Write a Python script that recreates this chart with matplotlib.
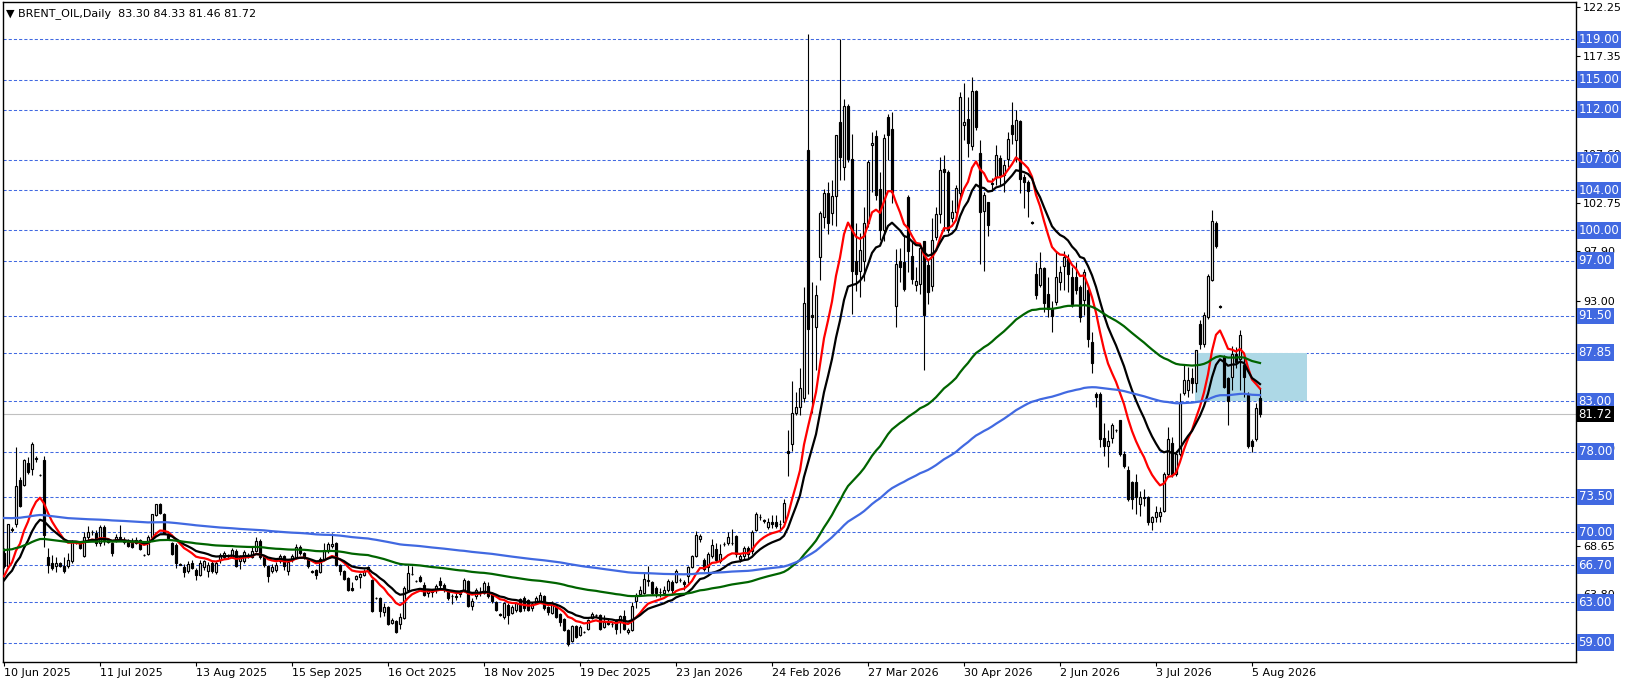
import matplotlib
matplotlib.use('Agg')
import matplotlib.pyplot as plt
import matplotlib.transforms as mtransforms
from matplotlib.patches import Rectangle
import numpy as np
import pandas as pd

# daily bars, oldest first
opens = [
    67.9, 66.6, 70.3, 70.8, 75.2, 74.7, 76.9, 76.3, 77.4, 75.7,
    77.2, 67.5, 66.9, 66.6, 66.9, 66.6, 66.6, 67.1, 68.9, 68.9,
    67.6, 69.5, 70.0, 69.9, 68.9, 70.5, 69.2, 68.9, 69.2, 69.5,
    69.2, 69.2, 69.1, 68.9, 69.2, 67.7, 67.8, 69.5, 71.7, 72.8,
    71.8, 69.7, 68.9, 68.7, 66.8, 66.5, 66.1, 66.9, 66.2, 65.7,
    66.5, 66.1, 66.9, 66.0, 67.2, 67.5, 67.6, 67.5, 68.1, 67.1,
    67.1, 67.6, 67.5, 68.1, 69.1, 67.5, 66.6, 66.1, 66.2, 67.1,
    67.6, 66.1, 67.2, 67.5, 68.5, 67.9, 67.2, 66.1, 66.2, 66.0,
    67.2, 68.1, 68.6, 68.9, 66.7, 66.1, 65.4, 64.4, 65.3, 65.5,
    65.7, 66.1, 65.2, 63.4, 63.4, 62.1, 62.5, 61.0, 61.2, 60.9,
    61.5, 64.2, 65.8, 65.1, 65.5, 64.7, 63.9, 64.1, 64.2, 65.1,
    64.7, 64.2, 63.6, 63.6, 63.8, 64.1, 65.1, 62.6, 63.6, 64.0,
    63.9, 64.6, 63.9, 63.0, 61.9, 61.6, 62.7, 62.0, 62.3, 63.3,
    63.4, 63.2, 62.4, 62.9, 63.1, 63.6, 62.5, 62.0, 62.6, 61.9,
    61.4, 60.3, 59.2, 60.7, 59.8, 60.1, 60.4, 61.5, 61.8, 61.8,
    60.6, 61.2, 60.9, 61.3, 61.1, 61.7, 60.1, 60.3, 63.1, 63.8,
    63.9, 65.1, 65.0, 64.4, 64.0, 63.9, 64.2, 65.0, 65.0, 65.2,
    65.0, 65.6, 66.5, 67.6, 69.3, 67.2, 66.5, 67.6, 68.3, 67.1,
    68.8, 68.9, 68.9, 69.6, 67.3, 67.6, 68.4, 68.1, 70.2, 71.5,
    71.2, 70.5, 71.0, 71.0, 70.8, 71.0, 78.1, 78.8, 81.8, 82.4,
    83.3, 108.0, 91.6, 90.4, 97.4, 101.3, 103.7, 101.7, 103.4, 110.8,
    106.3, 112.4, 107.1, 97.0, 96.0, 97.0, 100.7, 108.5, 109.4, 104.1,
    100.0, 111.3, 110.1, 92.5, 97.0, 96.9, 103.3, 97.5, 94.6, 94.7,
    98.9, 96.6, 94.5, 99.3, 101.6, 106.1, 105.8, 101.2, 101.8, 103.7,
    110.5, 111.1, 108.4, 113.9, 107.7, 101.9, 102.8, 104.7, 105.3, 107.2,
    105.5, 107.1, 110.5, 109.0, 110.9, 105.3, 104.8, 100.8, 95.7, 94.6,
    96.3, 93.7, 92.2, 92.9, 94.9, 96.5, 97.2, 95.4, 95.4, 94.4,
    93.1, 94.1, 88.9, 83.7, 83.7, 79.4, 78.6, 79.4, 80.1, 81.1,
    77.8, 76.2, 75.0, 75.0, 72.8, 73.5, 73.5, 71.0, 71.5, 71.6,
    72.1, 75.8, 78.9, 75.8, 77.8, 83.8, 84.1, 85.3, 84.8, 90.7,
    88.7, 91.4, 95.1, 100.7, 92.5, 87.4, 85.3, 85.4, 87.7, 87.2,
    86.6, 83.6, 79.1, 79.3, 83.30,
]
highs = [
    68.4, 70.8, 70.5, 78.5, 75.5, 77.3, 77.5, 79.0, 77.6, 75.8,
    77.6, 68.4, 67.7, 67.5, 67.0, 67.5, 67.9, 69.2, 69.1, 69.0,
    70.0, 70.6, 70.2, 70.2, 70.7, 70.7, 69.4, 69.0, 69.8, 70.7,
    69.5, 69.3, 69.4, 69.5, 69.3, 67.8, 69.7, 71.8, 72.8, 72.9,
    71.9, 69.8, 69.0, 68.9, 66.9, 66.8, 67.1, 67.2, 66.4, 67.2,
    67.2, 67.0, 67.1, 67.1, 67.9, 68.1, 67.8, 68.4, 68.3, 67.7,
    68.2, 67.9, 68.6, 69.5, 69.3, 67.6, 66.7, 66.8, 67.0, 67.8,
    67.7, 67.2, 67.8, 68.8, 68.7, 68.0, 67.3, 66.2, 66.3, 67.5,
    68.9, 69.0, 69.9, 69.0, 66.8, 66.2, 65.5, 65.0, 65.7, 65.9,
    66.3, 66.6, 65.3, 63.5, 63.5, 62.9, 62.6, 61.5, 61.3, 62.0,
    64.6, 66.7, 66.6, 65.2, 65.7, 65.0, 64.3, 64.3, 64.8, 65.5,
    64.9, 64.3, 63.8, 63.9, 64.2, 65.4, 65.2, 63.4, 64.4, 64.5,
    65.1, 65.0, 64.0, 63.1, 62.0, 63.0, 62.9, 62.7, 63.0, 63.4,
    63.6, 63.3, 63.0, 63.6, 64.0, 63.7, 62.6, 63.1, 62.8, 62.0,
    61.5, 60.4, 60.8, 60.8, 60.8, 60.2, 61.4, 62.1, 61.9, 61.9,
    61.8, 61.4, 61.1, 61.4, 61.8, 62.3, 60.5, 63.0, 63.9, 64.6,
    65.9, 66.6, 65.1, 64.6, 64.4, 64.6, 65.3, 65.2, 66.3, 65.4,
    65.2, 66.6, 67.7, 70.1, 69.8, 67.4, 68.0, 69.3, 68.9, 68.8,
    69.0, 70.0, 70.3, 69.7, 67.8, 68.6, 68.6, 70.2, 72.0, 71.8,
    71.3, 71.4, 71.7, 71.7, 71.2, 73.3, 80.1, 85.0, 83.9, 86.3,
    94.4, 119.5, 94.9, 94.6, 101.9, 104.1, 104.8, 105.0, 109.5, 119.0,
    113.1, 112.6, 109.6, 100.7, 99.7, 102.3, 107.0, 109.8, 110.0, 105.8,
    109.6, 111.6, 111.8, 98.1, 98.2, 99.4, 103.5, 98.9, 96.4, 98.5,
    98.9, 97.2, 101.2, 102.3, 107.3, 107.5, 106.0, 103.0, 104.5, 113.8,
    114.7, 113.3, 115.3, 114.0, 109.0, 103.8, 102.8, 105.2, 108.5, 107.5,
    107.0, 109.8, 112.8, 112.0, 111.0, 105.6, 105.0, 100.9, 96.9, 97.8,
    96.4, 95.4, 93.0, 97.9, 96.5, 97.9, 97.7, 96.4, 96.9, 94.6,
    96.2, 94.4, 89.9, 83.9, 83.9, 80.8, 80.1, 80.8, 80.2, 81.1,
    78.1, 76.6, 75.1, 75.8, 74.1, 74.3, 73.6, 71.6, 72.6, 72.5,
    76.0, 80.4, 79.5, 78.1, 83.8, 86.6, 86.4, 86.3, 88.1, 91.1,
    91.9, 95.7, 102.0, 100.9, 92.6, 87.6, 85.4, 88.5, 88.4, 90.1,
    87.4, 83.9, 79.3, 82.8, 84.33,
]
lows = [
    66.4, 66.4, 70.0, 70.5, 72.5, 74.6, 75.8, 75.7, 77.0, 75.6,
    68.5, 65.9, 66.2, 66.0, 66.5, 65.9, 66.4, 66.9, 68.8, 68.3,
    67.5, 69.1, 69.7, 68.6, 68.6, 68.7, 68.9, 67.6, 69.0, 69.2,
    68.8, 68.5, 68.4, 68.8, 68.2, 67.6, 67.7, 69.2, 71.6, 71.8,
    69.9, 69.3, 67.7, 66.4, 66.7, 65.5, 65.9, 66.3, 65.2, 65.6,
    66.2, 65.5, 65.9, 65.8, 66.9, 67.3, 67.3, 67.4, 66.5, 66.3,
    66.9, 67.4, 67.4, 68.0, 67.3, 66.5, 65.0, 65.9, 66.0, 66.9,
    66.2, 65.7, 67.0, 67.3, 67.7, 67.3, 66.4, 65.9, 65.3, 65.9,
    67.1, 67.9, 68.4, 66.6, 65.7, 65.2, 64.1, 64.1, 65.2, 64.4,
    65.6, 66.0, 62.1, 63.3, 61.6, 61.7, 60.8, 60.9, 60.0, 60.4,
    61.4, 64.1, 65.7, 65.0, 65.0, 63.6, 63.5, 63.5, 63.9, 64.4,
    64.0, 63.2, 62.8, 63.2, 63.5, 64.0, 62.5, 62.3, 63.3, 63.6,
    63.8, 63.4, 62.9, 62.2, 61.7, 61.4, 60.9, 61.9, 62.1, 62.1,
    62.2, 62.2, 62.2, 62.8, 62.9, 62.3, 61.8, 61.9, 61.5, 60.7,
    60.2, 58.7, 59.1, 59.5, 59.7, 60.0, 60.3, 61.4, 61.6, 60.3,
    60.5, 60.8, 60.6, 59.9, 60.0, 60.3, 59.9, 60.2, 62.4, 63.6,
    63.8, 64.6, 63.7, 63.5, 63.5, 63.7, 64.0, 63.9, 64.9, 65.0,
    64.2, 64.9, 66.4, 67.5, 69.0, 66.1, 65.8, 67.4, 67.0, 66.9,
    68.6, 68.7, 68.7, 67.5, 67.0, 67.3, 67.3, 67.8, 70.1, 71.2,
    70.9, 70.3, 70.4, 70.4, 70.3, 70.9, 75.6, 78.1, 81.6, 81.6,
    82.9, 83.7, 81.8, 86.1, 95.1, 100.2, 99.6, 100.5, 100.4, 105.0,
    105.0, 106.8, 91.7, 94.0, 93.4, 95.0, 100.3, 103.8, 103.0, 99.0,
    98.9, 107.0, 102.7, 90.4, 94.9, 94.0, 95.9, 94.7, 94.0, 93.7,
    86.1, 92.7, 94.0, 99.0, 100.7, 99.9, 99.7, 100.8, 101.5, 103.0,
    109.0, 107.3, 108.0, 110.0, 96.7, 96.0, 99.4, 103.9, 104.5, 104.5,
    103.8, 106.3, 108.6, 106.8, 103.7, 102.2, 101.3, 100.6, 93.2, 94.4,
    91.9, 91.4, 89.9, 92.6, 94.1, 94.1, 93.9, 92.4, 93.7, 90.9,
    91.6, 88.4, 85.8, 82.4, 78.5, 77.6, 76.5, 78.9, 80.0, 77.6,
    76.4, 73.1, 72.3, 71.8, 71.6, 72.6, 70.7, 70.2, 71.0, 71.0,
    72.0, 75.5, 75.5, 75.6, 77.6, 83.6, 83.4, 83.8, 83.9, 88.2,
    88.4, 91.2, 95.0, 98.2, 92.3, 84.3, 80.6, 84.1, 86.3, 84.1,
    83.4, 78.4, 78.0, 79.1, 81.46,
]
closes = [
    66.6, 70.8, 70.2, 74.6, 72.6, 77.2, 76.0, 78.8, 77.3, 75.7,
    69.7, 66.7, 66.4, 66.9, 66.6, 66.1, 67.2, 69.0, 68.9, 68.4,
    69.5, 70.0, 70.0, 68.9, 70.5, 69.2, 69.0, 67.9, 69.5, 69.4,
    69.0, 68.6, 68.5, 69.2, 68.3, 67.7, 69.5, 71.8, 72.8, 71.9,
    69.9, 69.4, 67.8, 66.9, 66.7, 66.0, 66.8, 66.4, 65.7, 66.9,
    67.1, 66.7, 66.1, 66.9, 67.7, 67.9, 67.6, 68.2, 66.6, 67.6,
    68.0, 67.7, 68.1, 69.1, 67.5, 66.7, 65.6, 66.5, 66.7, 67.6,
    66.6, 67.0, 67.6, 68.5, 67.9, 67.5, 66.6, 66.0, 65.7, 67.3,
    68.2, 68.8, 68.8, 66.7, 66.1, 65.3, 64.2, 64.2, 65.6, 65.8,
    66.1, 66.5, 62.2, 63.4, 62.2, 62.5, 60.9, 61.3, 60.1, 61.6,
    64.4, 65.9, 65.8, 65.1, 65.1, 63.7, 64.2, 64.0, 64.6, 64.7,
    64.2, 63.4, 63.6, 63.5, 63.9, 65.2, 62.6, 63.1, 64.2, 64.0,
    64.9, 63.6, 63.1, 62.3, 61.8, 62.9, 61.8, 62.5, 62.9, 62.2,
    62.4, 62.3, 62.8, 63.4, 63.7, 62.4, 62.1, 62.9, 61.6, 61.1,
    60.3, 58.9, 60.7, 59.6, 60.6, 60.1, 61.3, 61.9, 61.8, 60.4,
    61.1, 60.9, 60.9, 60.4, 61.7, 60.4, 60.3, 62.6, 63.7, 64.2,
    65.3, 65.2, 63.9, 63.9, 64.0, 64.2, 65.1, 64.2, 66.1, 65.2,
    64.8, 66.5, 67.6, 69.7, 69.6, 66.3, 67.8, 68.7, 67.2, 67.8,
    68.8, 69.5, 68.9, 67.8, 67.6, 68.4, 67.8, 70.0, 71.8, 71.5,
    71.1, 71.0, 70.8, 70.6, 70.8, 72.9, 77.9, 81.8, 82.4, 84.3,
    92.8, 90.2, 91.4, 93.6, 101.7, 103.7, 100.7, 103.4, 109.5, 107.3,
    112.4, 107.1, 96.0, 95.7, 98.0, 100.7, 106.8, 108.7, 103.5, 100.0,
    109.2, 109.5, 103.8, 96.7, 96.4, 94.2, 97.9, 95.2, 95.0, 98.2,
    91.6, 93.9, 99.0, 101.6, 106.0, 105.8, 100.0, 101.8, 104.2, 113.3,
    110.8, 108.7, 113.9, 110.3, 101.8, 103.5, 100.5, 104.6, 107.5, 105.5,
    106.5, 109.1, 109.6, 111.0, 105.1, 104.8, 103.9, 100.7, 93.6, 96.3,
    92.8, 92.2, 91.5, 95.4, 95.9, 97.4, 95.7, 92.7, 94.1, 91.4,
    95.9, 89.2, 86.8, 83.4, 79.3, 78.6, 79.1, 80.6, 80.1, 77.8,
    76.6, 73.3, 73.3, 73.5, 73.5, 73.4, 71.0, 71.5, 72.0, 72.0,
    75.8, 79.3, 75.8, 77.8, 82.9, 85.1, 85.1, 84.8, 88.1, 88.7,
    91.6, 95.5, 100.9, 98.4, 92.4, 84.4, 83.0, 87.7, 86.9, 89.6,
    85.4, 78.6, 78.6, 82.3, 81.72,
]

# moving averages: periods and their value on the first visible bar
ma_periods = [12, 20, 100, 200]
ma_first = [65.6, 65.2, 68.2, 71.4]
ma_colors = ['#FF0000', '#000000', '#006400', '#4169E1']

# horizontal levels drawn on the chart
levels = [119.00, 115.00, 112.00, 107.00, 104.00, 100.00, 97.00, 91.50,
          87.85, 83.00, 78.00, 73.50, 70.00, 66.70, 63.00, 59.00]
last_price = 81.72

# shaded zone (price range and bar range)
zone_low, zone_high = 83.00, 87.85
zone_from, zone_to = 298, 326

price_ticks = [122.25, 117.35, 112.50, 107.60, 102.75, 97.90, 93.00, 88.15,
               83.25, 78.40, 73.50, 68.65, 63.80]
date_labels = ['10 Jun 2025', '11 Jul 2025', '13 Aug 2025', '15 Sep 2025',
               '16 Oct 2025', '18 Nov 2025', '19 Dec 2025', '23 Jan 2026',
               '24 Feb 2026', '27 Mar 2026', '30 Apr 2026', '2 Jun 2026',
               '3 Jul 2026', '5 Aug 2026']
bars_per_label = 24

title = '\u25BC BRENT_OIL,Daily  83.30 84.33 81.46 81.72'

o = np.array(opens)
h = np.array(highs)
l = np.array(lows)
c = np.array(closes)
x = np.arange(len(c))

fig = plt.figure(figsize=(16.26, 6.86), dpi=100)
ax = fig.add_axes([0.00154, 0.03455, 0.96771, 0.96181])
ax.set_xlim(-0.375, 393)
ax.set_ylim(57.05, 122.66)

# level lines, current price line and the zone
for lv in levels:
    ax.axhline(lv, color='#4169E1', lw=0.75, dashes=(3, 2), zorder=1)
ax.axhline(last_price, color='#C0C0C0', lw=0.8, zorder=1)
ax.add_patch(Rectangle((zone_from - 0.25, zone_low), zone_to - zone_from,
                       zone_high - zone_low, facecolor='#ADD8E6',
                       edgecolor='none', zorder=1.5))

# candles
up = c >= o
bottom = np.minimum(o, c)
height = np.abs(c - o)
ax.vlines(x, l, h, color='black', lw=0.8, zorder=3)
ax.bar(x[up], height[up], bottom=bottom[up], width=0.6, facecolor='white',
       edgecolor='black', lw=0.85, zorder=4)
ax.bar(x[~up], height[~up], bottom=bottom[~up], width=0.6, facecolor='black',
       edgecolor='black', lw=0.85, zorder=4)

# exponential moving averages
for period, first, col in zip(ma_periods, ma_first, ma_colors):
    s = pd.Series(np.r_[first, c[1:]])
    ema = s.ewm(span=period, adjust=False).mean()
    ax.plot(x, ema, color=col, lw=1.6, zorder=5)

# axes look
for sp in ax.spines.values():
    sp.set_color('black')
    sp.set_linewidth(1.0)
ax.yaxis.tick_right()
ax.set_yticks(price_ticks)
ax.set_yticklabels(['%.2f' % t for t in price_ticks])
ax.tick_params(axis='y', direction='out', length=3, width=0.8, pad=2,
               labelsize=8, colors='black')
ax.set_xticks(np.arange(len(date_labels)) * bars_per_label)
ax.set_xticklabels(date_labels)
ax.tick_params(axis='x', direction='out', length=3, width=0.8, pad=1,
               labelsize=8, colors='black')
for lab in ax.get_xticklabels():
    lab.set_horizontalalignment('left')

# labels of the levels on the price scale
trans = mtransforms.blended_transform_factory(ax.transAxes, ax.transData)
for lv in levels:
    ax.text(1.0016, lv, '%.2f' % lv, transform=trans, ha='left', va='center',
            color='white', fontsize=8.5, zorder=10, clip_on=False,
            bbox=dict(boxstyle='square,pad=0.15', facecolor='#4169E1',
                      edgecolor='none'))
ax.text(1.0016, last_price, '%.2f' % last_price, transform=trans, ha='left',
        va='center', color='white', fontsize=8.5, zorder=11, clip_on=False,
        bbox=dict(boxstyle='square,pad=0.15', facecolor='black', edgecolor='none'))

ax.text(0.0025, 0.992, title, transform=ax.transAxes, ha='left', va='top',
        fontsize=8, color='black')

fig.savefig('out.png', dpi=100)
